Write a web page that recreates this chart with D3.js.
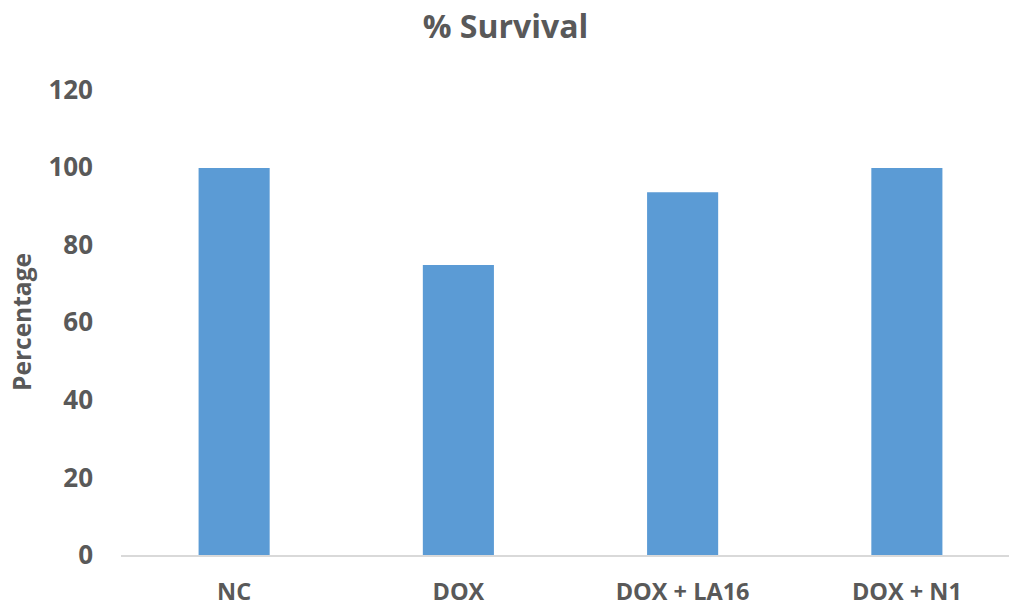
<!DOCTYPE html>
<html><head><meta charset="utf-8">
<script src="https://cdn.jsdelivr.net/npm/d3@7"></script>
<style>body{margin:0;background:#fff}svg{display:block}</style>
</head><body>
<svg id="c" width="1009" height="606"></svg>
<script>
const categories = ["NC", "DOX", "DOX + LA16", "DOX + N1"];
const survival = [100, 75, 93.75, 100];
const yTicks = [0, 20, 40, 60, 80, 100, 120];
const titleText = "% Survival";
const yLabel = "Percentage";

const svg = d3.select("#c");
const font = "'Open Sans', 'Liberation Sans', sans-serif";
const txt = "#595959";

const x = d3.scaleBand().domain(categories).range([122, 1019]).paddingInner(0.683).paddingOuter(0.3415);
const y = d3.scaleLinear().domain([0, 120]).range([556, 90.4]);

svg.append("g").selectAll("rect").data(categories).join("rect")
  .attr("x", d => x(d)).attr("width", x.bandwidth())
  .attr("y", (d, i) => y(survival[i])).attr("height", (d, i) => y(0) - y(survival[i]))
  .attr("fill", "#5b9bd5");

svg.append("line").attr("x1", 121).attr("x2", 1009).attr("y1", y(0)).attr("y2", y(0))
  .attr("stroke", "#d9d9d9").attr("stroke-width", 2);

svg.append("g").selectAll("text").data(yTicks).join("text")
  .attr("x", 93).attr("y", d => y(d) - 1).attr("dy", "0.35em")
  .attr("text-anchor", "end").attr("font-family", font).attr("font-weight", "bold")
  .attr("font-size", 26).attr("fill", txt).text(d => d);

svg.append("g").selectAll("text").data(categories).join("text")
  .attr("x", d => x(d) + x.bandwidth() / 2).attr("y", 592).attr("dy", "0.35em")
  .attr("text-anchor", "middle").attr("font-family", font).attr("font-weight", "bold")
  .attr("font-size", 23.5).attr("fill", txt).text(d => d);

svg.append("text").attr("x", 505.5).attr("y", 27).attr("dy", "0.35em")
  .attr("text-anchor", "middle").attr("font-family", font).attr("font-weight", "bold")
  .attr("font-size", 32).attr("fill", txt).text(titleText);

svg.append("text").attr("transform", "translate(22,322) rotate(-90)").attr("dy", "0.35em")
  .attr("text-anchor", "middle").attr("font-family", font).attr("font-weight", "bold")
  .attr("font-size", 24.5).attr("fill", txt).text(yLabel);
</script>
</body></html>
